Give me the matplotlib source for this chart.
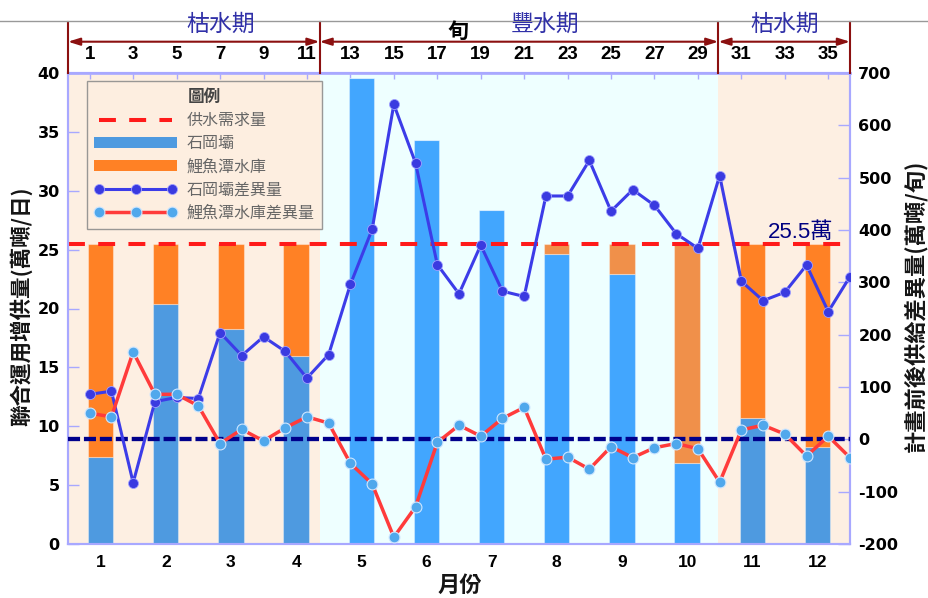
import numpy as np
import matplotlib
matplotlib.use('Agg')
import matplotlib.pyplot as plt
import matplotlib.transforms as mtransforms
from matplotlib.patches import Patch
from matplotlib.lines import Line2D

CJK = ['Noto Sans CJK TC', 'DejaVu Sans']
plt.rcParams['font.family'] = CJK
plt.rcParams['axes.unicode_minus'] = False

# ---------------- data ----------------
months = np.arange(1, 13)
month_labels = [str(m) for m in months]
shigang = [7.35, 20.4, 18.3, 16.0, 39.6, 34.3, 28.4, 24.6, 22.9, 6.9, 10.7, 8.25]
liyutan = [18.15, 5.1, 7.2, 9.5, 0.0, 0.0, 0.0, 0.9, 2.6, 18.6, 14.8, 17.25]
demand = 25.5
demand_label = '25.5萬'

tendays = np.arange(1, 37)
tenday_ticks = list(range(1, 36, 2))
shigang_diff = [86, 92, -83, 72, 80, 78, 204, 160, 196, 168, 117, 162,
                296, 401, 640, 528, 334, 278, 371, 283, 273, 465, 465, 533,
                436, 477, 447, 393, 365, 504, 302, 265, 281, 333, 244, 311]
liyutan_diff = [50, 43, 167, 86, 86, 64, -8, 19, -3, 22, 43, 31,
                -46, -85, -187, -129, -6, 27, 6, 40, 61, -38, -34, -57,
                -14, -35, -16, -8, -18, -82, 18, 27, 10, -32, 6, -35]
season_names = ['枯水期', '豐水期', '枯水期']
wet_months = [5, 6, 7, 8, 9, 10]

# ---------------- figure ----------------
W, H = 929, 598
def fy(px):
    return 1 - px / H

fig = plt.figure(figsize=(W / 100, H / 100), dpi=100)
ax = fig.add_axes([68 / W, 1 - 544 / H, 782 / W, 471 / H])
ax2 = ax.twinx()

ax.set_xlim(0.5, 12.5)
ax.set_ylim(0, 40)
ax2.set_ylim(-200, 700)

# seasonal backgrounds
bounds = [0.5, 4.36, 10.48, 12.5]
bg = ['#FDEFE2', '#EEFFFF', '#FDEFE2']
for i in range(3):
    ax.axvspan(bounds[i], bounds[i + 1], color=bg[i], lw=0, zorder=0)

# bars
is_wet = np.isin(months, wet_months)
blue_c = np.where(is_wet, '#42A6FE', '#4E9AE0')
orange_c = np.where(is_wet, '#F0904A', '#FF8125')
ax.bar(months, shigang, width=0.39, color=blue_c, edgecolor=(1, 1, 1, 0.35),
       lw=0.8, zorder=2)
ax.bar(months, liyutan, bottom=shigang, width=0.39, color=orange_c,
       edgecolor=(1, 1, 1, 0.35), lw=0.8, zorder=2)

# demand line
ax.axhline(demand, color='#FF1A1A', lw=2.9, ls=(0, (4.2, 3.3)), zorder=4)
ax.text(12.24, demand + 0.45, demand_label, ha='right', va='baseline',
        fontsize=16, color='#000080', family=['Liberation Sans', 'Noto Sans CJK TC'],
        zorder=6)

# zero line (right axis)
ax2.axhline(0, color='#00008B', lw=3.1, ls=(0, (2.8, 0.9)), zorder=3)

# difference lines
xt = 0.5 + tendays / 3.0
ax2.plot(xt, shigang_diff, color='#3C3CE8', lw=2.2, marker='o', ms=7.2,
         mfc='#3A3AE0', mec='#A0A0FF', mew=0.6, zorder=5)
ax2.plot(xt, liyutan_diff, color='#FF3B3B', lw=2.5, marker='o', ms=7.8,
         mfc='#50A8EC', mec='#CFE6FF', mew=0.8, zorder=5)

# spines & ticks
spine_c = '#A8A8FF'
for a in (ax, ax2):
    for s in a.spines.values():
        s.set_color(spine_c)
        s.set_linewidth(1.5)

ax.set_yticks(range(0, 41, 5))
ax.tick_params(axis='y', direction='in', length=8, color=spine_c, width=1,
               labelsize=11.5, pad=6)
ax2.set_yticks(range(-200, 701, 100))
ax2.tick_params(axis='y', direction='in', length=9, color=spine_c, width=1,
                labelsize=11.5, pad=6)
ax.set_xticks(months)
ax.set_xticklabels(month_labels)
ax.tick_params(axis='x', direction='in', length=5, color='#555555', width=1,
               labelsize=12.5, pad=8)
for lbl in ax.get_yticklabels() + ax2.get_yticklabels():
    lbl.set_fontweight('bold')
    lbl.set_family('DejaVu Sans')
for lbl in ax.get_xticklabels():
    lbl.set_fontweight('bold')
    lbl.set_family('Liberation Sans')

secax = ax.secondary_xaxis('top', functions=(lambda m: (m - 0.5) * 3,
                                             lambda t: 0.5 + t / 3))
secax.set_xticks(tenday_ticks)
secax.set_xticklabels([str(t) for t in tenday_ticks])
secax.tick_params(axis='x', direction='in', length=4, color=spine_c, width=1,
                  labelsize=13.5, pad=7)
secax.spines['top'].set_color('#B0B0FF')
secax.spines['top'].set_linewidth(2)
for lbl in secax.get_xticklabels():
    lbl.set_fontweight('bold')
    lbl.set_family('Liberation Sans')

# header: season arrows
trans = mtransforms.blended_transform_factory(ax.transData, fig.transFigure)
dark_red = '#8B1010'
for xb in bounds:
    fig.add_artist(Line2D([xb, xb], [fy(22), fy(73)], transform=trans,
                          color=dark_red, lw=1.5))
for i in range(3):
    ax.annotate('', xy=(bounds[i + 1], fy(41.7)), xytext=(bounds[i], fy(41.7)),
                xycoords=trans, textcoords=trans, annotation_clip=False,
                arrowprops=dict(arrowstyle='<|-|>,head_length=0.7,head_width=0.22',
                                color=dark_red, lw=1.5, shrinkA=0, shrinkB=0))
fig.add_artist(Line2D([0, 1], [fy(20.7), fy(20.7)], transform=fig.transFigure,
                      color='#999999', lw=1))
season_x = [221, 545, 785]
for name, sx in zip(season_names, season_x):
    fig.text(sx / W, fy(24), name, ha='center', va='center', fontsize=16.5,
             color='#3030A8')
fig.text(458 / W, fy(31), '旬', ha='center', va='center', fontsize=15,
         fontweight='bold', color='black')

# axis labels
fig.text(21.5 / W, fy(306), '聯合運用增供量(萬噸/日)', rotation=90, ha='center',
         va='center', fontsize=15.5, fontweight='bold', color='#151515')
fig.text(915 / W, fy(306), '計畫前後供給差異量(萬噸/旬)', rotation=90, ha='center',
         va='center', fontsize=16, fontweight='bold', color='#151515')
fig.text(460 / W, fy(585), '月份', ha='center', va='center', fontsize=16,
         fontweight='bold', color='#151515')

# legend
handles = [
    Line2D([], [], color='#FF1A1A', lw=2.9, ls=(0, (4.2, 3.3))),
    Patch(facecolor='#4E9AE0'),
    Patch(facecolor='#FF8125'),
    Line2D([], [], color='#3C3CE8', lw=2.2, marker='o', ms=7.2, mfc='#3A3AE0',
           mec='#A0A0FF', mew=0.6),
    Line2D([], [], color='#FF3B3B', lw=2.5, marker='o', ms=7.8, mfc='#50A8EC',
           mec='#CFE6FF', mew=0.8),
]
labels = ['供水需求量', '石岡壩', '鯉魚潭水庫', '石岡壩差異量', '鯉魚潭水庫差異量']
leg = ax2.legend(handles, labels, title='圖例', loc='upper left',
                 bbox_to_anchor=((87 - 68) / 782, (544 - 81) / 471),
                 borderaxespad=0, fancybox=False, edgecolor='#888888',
                 facecolor='#FDEEE0', framealpha=0.85, prop={'size': 11.5},
                 handlelength=5.2, handletextpad=0.6, labelspacing=0.38,
                 numpoints=3, borderpad=0.45,
                 title_fontproperties={'size': 12, 'weight': 'bold'})
for t in leg.get_texts():
    t.set_color('#666666')
leg.get_title().set_color('#444444')
leg.get_frame().set_linewidth(1.0)
leg.set_zorder(10)

fig.savefig('out.png', dpi=100)
